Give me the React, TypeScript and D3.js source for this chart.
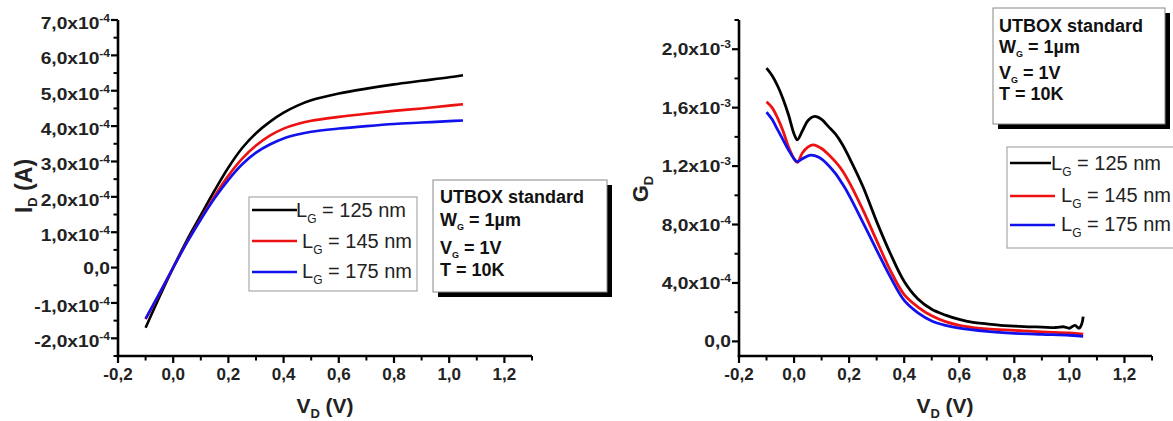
import React from "react";
import * as d3 from "d3";

const FONT = "'Liberation Sans', Arial, Helvetica, sans-serif";

// ---------- Left panel: I_D vs V_D ----------
const vdLeft = [-0.1, -0.05, 0, 0.05, 0.1, 0.15, 0.2, 0.25, 0.3, 0.35, 0.4, 0.45, 0.5, 0.6, 0.7, 0.8, 0.9, 1.0, 1.05];
const id125 = [-1.70e-4, -0.83e-4, 0, 0.78e-4, 1.48e-4, 2.18e-4, 2.83e-4, 3.38e-4, 3.80e-4, 4.12e-4, 4.38e-4, 4.58e-4, 4.73e-4, 4.92e-4, 5.06e-4, 5.18e-4, 5.28e-4, 5.38e-4, 5.44e-4];
const id145 = [-1.46e-4, -0.74e-4, 0, 0.72e-4, 1.38e-4, 2.02e-4, 2.60e-4, 3.08e-4, 3.45e-4, 3.73e-4, 3.93e-4, 4.06e-4, 4.15e-4, 4.26e-4, 4.35e-4, 4.43e-4, 4.50e-4, 4.58e-4, 4.62e-4];
const id175 = [-1.44e-4, -0.73e-4, 0, 0.71e-4, 1.36e-4, 1.96e-4, 2.48e-4, 2.92e-4, 3.25e-4, 3.48e-4, 3.65e-4, 3.76e-4, 3.84e-4, 3.93e-4, 4.00e-4, 4.06e-4, 4.10e-4, 4.14e-4, 4.16e-4];

// ---------- Right panel: G_D vs V_D ----------
const vdG125 = [-0.1, -0.08, -0.06, -0.04, -0.02, 0.0, 0.012, 0.03, 0.05, 0.075, 0.1, 0.125, 0.15, 0.175, 0.2, 0.25, 0.3, 0.35, 0.4, 0.45, 0.5, 0.55, 0.6, 0.65, 0.7, 0.75, 0.8, 0.85, 0.9, 0.95, 0.98, 1.0, 1.02, 1.035, 1.045, 1.05];
const gd125 = [1.87e-3, 1.82e-3, 1.75e-3, 1.66e-3, 1.55e-3, 1.42e-3, 1.38e-3, 1.44e-3, 1.51e-3, 1.54e-3, 1.52e-3, 1.47e-3, 1.42e-3, 1.35e-3, 1.26e-3, 1.06e-3, 0.82e-3, 0.60e-3, 0.41e-3, 0.29e-3, 0.22e-3, 0.18e-3, 0.15e-3, 0.13e-3, 0.12e-3, 0.11e-3, 0.105e-3, 0.10e-3, 0.098e-3, 0.095e-3, 0.10e-3, 0.09e-3, 0.11e-3, 0.09e-3, 0.12e-3, 0.17e-3];
const vdG145 = [-0.1, -0.08, -0.06, -0.04, -0.02, 0.0, 0.012, 0.03, 0.05, 0.07, 0.1, 0.125, 0.15, 0.175, 0.2, 0.25, 0.3, 0.35, 0.4, 0.45, 0.5, 0.55, 0.6, 0.65, 0.7, 0.8, 0.9, 1.0, 1.05];
const gd145 = [1.64e-3, 1.60e-3, 1.53e-3, 1.44e-3, 1.33e-3, 1.25e-3, 1.225e-3, 1.29e-3, 1.33e-3, 1.345e-3, 1.32e-3, 1.28e-3, 1.23e-3, 1.17e-3, 1.09e-3, 0.90e-3, 0.69e-3, 0.485e-3, 0.32e-3, 0.235e-3, 0.175e-3, 0.135e-3, 0.11e-3, 0.095e-3, 0.085e-3, 0.075e-3, 0.065e-3, 0.058e-3, 0.05e-3];
const vdG175 = [-0.1, -0.08, -0.06, -0.04, -0.02, 0.0, 0.012, 0.03, 0.06, 0.09, 0.12, 0.15, 0.175, 0.2, 0.25, 0.3, 0.35, 0.4, 0.45, 0.5, 0.55, 0.6, 0.7, 0.8, 0.9, 1.0, 1.05];
const gd175 = [1.57e-3, 1.52e-3, 1.45e-3, 1.38e-3, 1.31e-3, 1.25e-3, 1.23e-3, 1.25e-3, 1.275e-3, 1.26e-3, 1.215e-3, 1.15e-3, 1.08e-3, 1.0e-3, 0.815e-3, 0.625e-3, 0.44e-3, 0.28e-3, 0.195e-3, 0.14e-3, 0.11e-3, 0.09e-3, 0.068e-3, 0.055e-3, 0.048e-3, 0.042e-3, 0.035e-3];

// ---------- Ticks ----------
const xMajor = [-0.2, 0, 0.2, 0.4, 0.6, 0.8, 1.0, 1.2];
const xMajorLabels = ["-0,2", "0,0", "0,2", "0,4", "0,6", "0,8", "1,0", "1,2"];
const xMinor = [-0.1, 0.1, 0.3, 0.5, 0.7, 0.9, 1.1, 1.3];

const leftYMajor = [-2e-4, -1e-4, 0, 1e-4, 2e-4, 3e-4, 4e-4, 5e-4, 6e-4, 7e-4];
const leftYMant = ["-2,0", "-1,0", "0,0", "1,0", "2,0", "3,0", "4,0", "5,0", "6,0", "7,0"];
const leftYExp = ["-4", "-4", "", "-4", "-4", "-4", "-4", "-4", "-4", "-4"];
const leftYMinor = [-2.5e-4, -1.5e-4, -0.5e-4, 0.5e-4, 1.5e-4, 2.5e-4, 3.5e-4, 4.5e-4, 5.5e-4, 6.5e-4];

const rightYMajor = [0, 4e-4, 8e-4, 1.2e-3, 1.6e-3, 2.0e-3];
const rightYMant = ["0,0", "4,0", "8,0", "1,2", "1,6", "2,0"];
const rightYExp = ["", "-4", "-4", "-3", "-3", "-3"];
const rightYMinor = [2e-4, 6e-4, 1.0e-3, 1.4e-3, 1.8e-3, 2.2e-3];

const seriesNames = ["125 nm", "145 nm", "175 nm"];
const seriesColors = ["#000000", "#ee1111", "#1111ee"];
const infoLines = ["UTBOX standard", "W|= 1µm", "V|= 1V", "T = 10K"];

// ---------- Scales ----------
const xL = d3.scaleLinear().domain([-0.2, 1.3]).range([118, 532]);
const yL = d3.scaleLinear().domain([-2.5e-4, 7e-4]).range([356, 20]);
const xR = d3.scaleLinear().domain([-0.2, 1.3]).range([739, 1152]);
const yR = d3.scaleLinear().domain([-1e-4, 2.2e-3]).range([356, 20]);

function pathFor(xs: number[], ys: number[], xs_: any, ys_: any) {
  const gen = d3
    .line<number>()
    .x((_, i) => xs_(xs[i]))
    .y((d) => ys_(d))
    .curve(d3.curveCatmullRom.alpha(0.5));
  return gen(ys) || "";
}

function Axes({ xs, ys, yMajor, yMant, yExp, yMinor, expDy, xTitleX, children }: any) {
  const [x0, x1] = xs.range();
  const [yb, yt] = ys.range();
  const axisY = yb;
  const axisX = x0;
  return (
    <g fontFamily={FONT}>
      {children}
      {/* x axis */}
      <line x1={x0 - 1.25} x2={x1} y1={axisY} y2={axisY} stroke="#000" strokeWidth={2.6} />
      {xMajor.map((v, i) => (
        <g key={"xm" + i}>
          <line x1={xs(v)} x2={xs(v)} y1={axisY} y2={axisY + 7} stroke="#000" strokeWidth={2.2} />
          <text x={xs(v)} y={380} textAnchor="middle" fontSize={17} fontWeight="bold" fill="#222">
            {xMajorLabels[i]}
          </text>
        </g>
      ))}
      {xMinor.map((v, i) => (
        <line key={"xn" + i} x1={xs(v)} x2={xs(v)} y1={axisY} y2={axisY + 4.5} stroke="#000" strokeWidth={2} />
      ))}
      {/* y axis */}
      <line x1={axisX} x2={axisX} y1={yt} y2={axisY + 1.25} stroke="#000" strokeWidth={2.6} />
      {yMajor.map((v: number, i: number) => (
        <g key={"ym" + i}>
          <line x1={axisX - 7} x2={axisX} y1={ys(v)} y2={ys(v)} stroke="#000" strokeWidth={2.2} />
          <g transform={`translate(${axisX - 8},${ys(v) + (yExp[i] ? expDy : 6)}) scale(1.2,1)`}>
            <text textAnchor="end" fontSize={16} fontWeight="bold" fill="#222">
              {yMant[i]}
              {yExp[i] ? "x10" : ""}
              {yExp[i] ? (
                <tspan fontSize={10} dy={-7}>
                  {yExp[i]}
                </tspan>
              ) : null}
            </text>
          </g>
        </g>
      ))}
      {yMinor.map((v: number, i: number) => (
        <line key={"yn" + i} x1={axisX - 4.5} x2={axisX} y1={ys(v)} y2={ys(v)} stroke="#000" strokeWidth={2} />
      ))}
      {/* x title */}
      <text x={xTitleX} y={413} textAnchor="middle" fontSize={21} fontWeight="bold" fill="#222">
        V<tspan fontSize={13} dy={5}>D</tspan>
        <tspan dy={-5}> (V)</tspan>
      </text>
    </g>
  );
}

function Legend({ x, y, w, h, rows, lineX0, lineX1, textX, lineY, textY }: any) {
  return (
    <g fontFamily={FONT}>
      <rect x={x} y={y} width={w} height={h} fill="#fff" stroke="#aaa" strokeWidth={1.2} />
      {rows.map((name: string, i: number) => (
        <g key={i}>
          <line x1={lineX0} x2={lineX1[i]} y1={lineY[i]} y2={lineY[i]} stroke={seriesColors[i]} strokeWidth={2.4} />
          <text x={textX[i]} y={textY[i]} fontSize={20} fill="#222">
            L<tspan fontSize={12} dy={6}>G</tspan>
            <tspan dy={-6}> = {name}</tspan>
          </text>
        </g>
      ))}
    </g>
  );
}

function InfoBox({ x, y, w, h, tx, baselines }: any) {
  return (
    <g fontFamily={FONT}>
      <rect x={x + 5} y={y + 5} width={w} height={h} fill="#000" />
      <rect x={x} y={y} width={w} height={h} fill="#fff" stroke="#888" strokeWidth={1} />
      {infoLines.map((line, i) => {
        const parts = line.split("|");
        return (
          <text key={i} x={tx} y={baselines[i]} fontSize={18} fontWeight="bold" fill="#111">
            {parts.length === 2 ? (
              <>
                {parts[0]}
                <tspan fontSize={9} dy={4}>G</tspan>
                <tspan dy={-4}> {parts[1]}</tspan>
              </>
            ) : (
              line
            )}
          </text>
        );
      })}
    </g>
  );
}

export default function App() {
  const leftSeries = [id125, id145, id175];
  const rightX = [vdG125, vdG145, vdG175];
  const rightY = [gd125, gd145, gd175];
  return (
    <svg
      width={1173}
      height={421}
      viewBox="0 0 1173 421"
      style={{ position: "absolute", left: 0, top: 0, display: "block", background: "#fff" }}
    >
      <rect x={0} y={0} width={1173} height={421} fill="#fff" />

      {/* Left panel */}
      <Axes xs={xL} ys={yL} yMajor={leftYMajor} yMant={leftYMant} yExp={leftYExp} yMinor={leftYMinor} expDy={9} xTitleX={325}>
        {leftSeries.map((s, i) => (
          <path key={i} d={pathFor(vdLeft, s, xL, yL)} fill="none" stroke={seriesColors[i]} strokeWidth={2.6} strokeLinejoin="round" />
        ))}
      </Axes>
      <text transform="translate(32,186) rotate(-90)" textAnchor="middle" fontFamily={FONT} fontSize={23} fontWeight="bold" fill="#222">
        I<tspan fontSize={13} dy={5}>D</tspan>
        <tspan dy={-5}> (A)</tspan>
      </text>
      <Legend
        x={249}
        y={197}
        w={168}
        h={94}
        rows={seriesNames}
        lineX0={252}
        lineX1={[297, 297, 297]}
        textX={[296, 302, 302]}
        lineY={[210, 241, 272]}
        textY={[217, 248, 278]}
      />
      <InfoBox x={433} y={180} w={174} h={112} tx={440} baselines={[203, 226, 254, 276]} />

      {/* Right panel */}
      <Axes xs={xR} ys={yR} yMajor={rightYMajor} yMant={rightYMant} yExp={rightYExp} yMinor={rightYMinor} expDy={6} xTitleX={945}>
        {rightY.map((s, i) => (
          <path key={i} d={pathFor(rightX[i], s, xR, yR)} fill="none" stroke={seriesColors[i]} strokeWidth={2.8} strokeLinejoin="round" />
        ))}
      </Axes>
      <text transform="translate(648,189) rotate(-90)" textAnchor="middle" fontFamily={FONT} fontSize={22} fontWeight="bold" fill="#222">
        G<tspan fontSize={13} dy={5}>D</tspan>
      </text>
      <InfoBox x={993} y={8} w={172} h={116} tx={999} baselines={[32, 53, 79, 100]} />
      <Legend
        x={1007}
        y={147}
        w={180}
        h={101}
        rows={seriesNames}
        lineX0={1010}
        lineX1={[1051, 1055, 1055]}
        textX={[1051, 1061, 1061]}
        lineY={[163, 196, 225]}
        textY={[170, 202, 231]}
      />
    </svg>
  );
}
